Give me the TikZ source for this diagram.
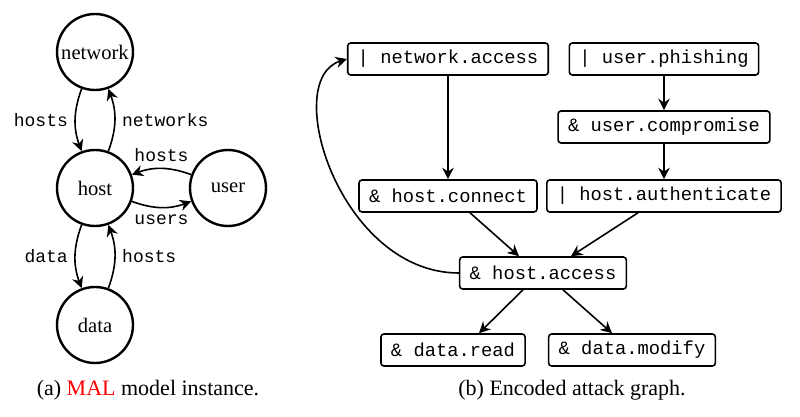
\documentclass[tikz,border=0pt]{standalone}
\usepackage{fontspec}
\setmainfont{Liberation Serif}
\setmonofont{Liberation Mono}
\usetikzlibrary{positioning}
\usetikzlibrary{arrows.meta}
\tikzset{>={Stealth[width=2mm,length=2mm]}}

\begin{document}
\begin{tikzpicture}[x=0.5pt, y=-0.5pt, asset/.style={circle, draw=black, very thick, minimum size=38pt, inner sep=0pt, font=\fontsize{10.3}{12}\selectfont}, atk/.style={rectangle, rounded corners=1.5pt, draw=black, thick, minimum height=16pt, inner xsep=5pt, font=\ttfamily\fontsize{9.4}{11}\selectfont}, lbl/.style={font=\ttfamily\fontsize{9}{11}\selectfont}]
    \useasboundingbox (0,0) rectangle (800,417);

    %Nodes
    \node[asset](network) at (95,52){network};
    \node[asset](host) at (95,188){host};
    \node[asset](user) at (228,188){user};
    \node[asset](data) at (95,325){data};

    \node[atk](netacc) at (448,59){|\ network.access};
    \node[atk](phish) at (664,59){|\ user.phishing};
    \node[atk](compromise) at (664,127){\&\ user.compromise};
    \node[atk](connect) at (448,196){\&\ host.connect};
    \node[atk](auth) at (664,196){|\ host.authenticate};
    \node[atk](access) at (543,273){\&\ host.access};
    \node[atk](read) at (453,350){\&\ data.read};
    \node[atk](modify) at (632,350){\&\ data.modify};

    \node[font=\fontsize{11}{13}\selectfont](capa) at (148,390){(a) \textcolor{red}{MAL} model instance.};
    \node[font=\fontsize{11}{13}\selectfont](capb) at (572,390){(b) Encoded attack graph.};

    %Lines
    \draw[->, thick] (network.250) to[bend right=20] node[lbl, left]{hosts} (host.110);
    \draw[->, thick] (host.70) to[bend right=20] node[lbl, right]{networks} (network.290);
    \draw[->, thick] (user.160) to[bend right=20] node[lbl, above]{hosts} (host.20);
    \draw[->, thick] (host.340) to[bend right=20] node[lbl, below]{users} (user.200);
    \draw[->, thick] (host.250) to[bend right=20] node[lbl, left]{data} (data.110);
    \draw[->, thick] (data.70) to[bend right=20] node[lbl, right]{hosts} (host.290);

    \draw[->, thick] (netacc) -- (connect);
    \draw[->, thick] (phish) -- (compromise);
    \draw[->, thick] (compromise) -- (auth);
    \draw[->, thick] ([xshift=11pt]connect.south) -- ([xshift=-12pt]access.north);
    \draw[->, thick] ([xshift=-13pt]auth.south) -- ([xshift=14pt]access.north);
    \draw[->, thick] ([xshift=-10pt]access.south) -- ([xshift=13pt]read.north);
    \draw[->, thick] ([xshift=10pt]access.south) -- ([xshift=-10pt]modify.north);
    \draw[->, thick] (access.west) .. controls (340,273) and (280,80) .. (netacc.west);
\end{tikzpicture}
\end{document}
